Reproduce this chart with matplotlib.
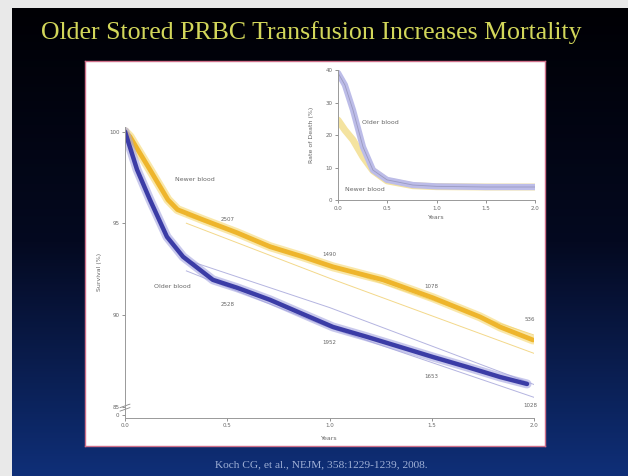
import matplotlib
matplotlib.use('Agg')
import matplotlib.pyplot as plt
import numpy as np
from matplotlib.colors import LinearSegmentedColormap
from matplotlib.patches import Rectangle

# Kaplan-Meier survival (%)
years_new = [0, 0.024, 0.06, 0.122, 0.21, 0.257, 0.381, 0.548, 0.709, 0.870,
             1.017, 1.262, 1.506, 1.736, 1.834, 1.995]
surv_new = [100, 99.73, 99.06, 97.92, 96.28, 95.74, 95.19, 94.48, 93.72, 93.17,
            92.62, 91.91, 90.93, 89.89, 89.34, 88.63]
years_old = [0, 0.059, 0.122, 0.205, 0.284, 0.430, 0.548, 0.709, 0.856, 1.017,
             1.183, 1.345, 1.506, 1.672, 1.834, 1.966]
surv_old = [100, 97.92, 96.28, 94.26, 93.17, 91.91, 91.48, 90.82, 90.11, 89.34,
            88.80, 88.25, 87.70, 87.16, 86.61, 86.23]

# thin model-based lines (upper / lower limits)
fit_years = [0.3, 1.0, 2.0]
fit_new_hi = [95.4, 92.7, 88.9]
fit_new_lo = [95.0, 92.0, 87.9]
fit_old_hi = [93.0, 90.4, 86.2]
fit_old_lo = [92.4, 89.3, 85.5]

# numbers at risk printed on the curves
risk_years = [0.5, 1.0, 1.5, 1.98]
risk_new = ['2507', '1490', '1078', '536']
risk_new_y = [95.19, 93.28, 91.53, 89.73]
risk_old = ['2528', '1952', '1653', '1028']
risk_old_y = [90.55, 88.47, 86.61, 85.08]

# hazard inset: rate of death (%)
haz_years = [0, 0.07, 0.152, 0.254, 0.355, 0.497, 0.761, 1.0, 1.5, 2.0]
haz_old = [39.1, 35.4, 27.7, 16.3, 9.2, 6.2, 4.6, 4.2, 4.0, 4.0]
haz_new = [24.6, 21.5, 18.5, 13.2, 9.0, 5.9, 4.4, 4.1, 4.0, 4.0]

x_ticks = [0.0, 0.5, 1.0, 1.5, 2.0]
x_labels = ['0.0', '0.5', '1.0', '1.5', '2.0']
y_ticks = [84.55, 85, 90, 95, 100]
y_labels = ['0', '85', '90', '95', '100']
inset_yticks = [0, 10, 20, 30, 40]

fig = plt.figure(figsize=(6.28, 4.76), dpi=100)

# slide background
bg = fig.add_axes([12 / 628, 0, 1 - 12 / 628, 1 - 8 / 476])
cmap = LinearSegmentedColormap.from_list('slide', ['#000004', '#040920', '#0f2f78'])
bg.imshow(np.linspace(0, 1, 256).reshape(-1, 1), aspect='auto', cmap=cmap,
          extent=[0, 1, 0, 1], origin='upper')
bg.axis('off')
fig.patches.append(Rectangle((0, 0), 12 / 628, 1, transform=fig.transFigure,
                             facecolor='#e9e9e9', edgecolor='none', zorder=0))
fig.patches.append(Rectangle((0, 1 - 8 / 476), 1, 8 / 476, transform=fig.transFigure,
                             facecolor='#e9e9e9', edgecolor='none', zorder=0))

fig.text(0.496, 1 - 33 / 476, 'Older Stored PRBC Transfusion Increases Mortality',
         ha='center', va='center', color='#d2d65a', fontsize=18.6,
         family='Liberation Serif')
fig.text(0.512, 1 - 465 / 476, 'Koch CG, et al., NEJM, 358:1229-1239, 2008.',
         ha='center', va='center', color='#9fb0d6', fontsize=8.2,
         family='Liberation Serif')

# white chart panel
panel = fig.add_axes([85 / 628, 1 - 446 / 476, 460 / 628, 385 / 476])
panel.set_xticks([])
panel.set_yticks([])
panel.set_facecolor('white')
for s in panel.spines.values():
    s.set_color('#d0708a')
    s.set_linewidth(1.0)

grey = '#666666'

# main survival plot
ax = fig.add_axes([125 / 628, 1 - 417.5 / 476, 409 / 628, 290.5 / 476])
ax.patch.set_alpha(0)
ax.plot(fit_years, fit_new_hi, color='#f3d88a', lw=0.7)
ax.plot(fit_years, fit_new_lo, color='#f3d88a', lw=0.7)
ax.plot(fit_years, fit_old_hi, color='#b4b4e0', lw=0.7)
ax.plot(fit_years, fit_old_lo, color='#b4b4e0', lw=0.7)
ax.plot(years_new, surv_new, color='#f6d870', lw=6.5, alpha=0.6, solid_capstyle='round')
ax.plot(years_new, surv_new, color='#eeb52c', lw=3.4, solid_capstyle='round')
ax.plot(years_old, surv_old, color='#a4a4e0', lw=6.5, alpha=0.6, solid_capstyle='round')
ax.plot(years_old, surv_old, color='#3b3ca6', lw=3.2, solid_capstyle='round')

ax.set_xlim(0, 2.0)
ax.set_ylim(84.4, 100.25)
ax.set_xticks(x_ticks)
ax.set_xticklabels(x_labels)
ax.set_yticks(y_ticks)
ax.set_yticklabels(y_labels)
ax.tick_params(labelsize=4, colors=grey, length=2, width=0.5, pad=2)
for side in ['top', 'right']:
    ax.spines[side].set_visible(False)
for side in ['left', 'bottom']:
    ax.spines[side].set_color('#999999')
    ax.spines[side].set_linewidth(0.7)
ax.set_xlabel('Years', fontsize=4.5, color=grey, labelpad=6)
ax.set_ylabel('Survival (%)', fontsize=4.5, color=grey, labelpad=5)
# axis break marks
for yb in [0.028, 0.040]:
    ax.plot([-0.012, 0.012], [yb - 0.006, yb + 0.006], transform=ax.transAxes,
            color='#888888', lw=0.6, clip_on=False)

ax.text(0.34, 97.4, 'Newer blood', fontsize=4.5, color=grey, ha='center', va='center')
ax.text(0.23, 91.53, 'Older blood', fontsize=4.5, color=grey, ha='center', va='center')
for xr, lab, yr in zip(risk_years, risk_new, risk_new_y):
    ax.text(xr, yr, lab, fontsize=4, color=grey, ha='center', va='center')
for xr, lab, yr in zip(risk_years, risk_old, risk_old_y):
    ax.text(xr, yr, lab, fontsize=4, color=grey, ha='center', va='center')

# inset: hazard of death
ins = fig.add_axes([338 / 628, 1 - 200 / 476, 197 / 628, 130 / 476])
ins.patch.set_alpha(0)
ins.plot(haz_years, haz_new, color='#f4e3a0', lw=5, solid_capstyle='round')
ins.plot(haz_years, haz_old, color='#bcbce8', lw=4.5, solid_capstyle='round')
ins.plot(haz_years, haz_old, color='#9a9ac0', lw=0.6)
ins.set_xlim(0, 2.0)
ins.set_ylim(0, 40)
ins.set_xticks(x_ticks)
ins.set_xticklabels(x_labels)
ins.set_yticks(inset_yticks)
ins.tick_params(labelsize=4, colors=grey, length=2, width=0.5, pad=2)
for side in ['top', 'right']:
    ins.spines[side].set_visible(False)
for side in ['left', 'bottom']:
    ins.spines[side].set_color('#999999')
    ins.spines[side].set_linewidth(0.7)
ins.set_xlabel('Years', fontsize=4.5, color=grey, labelpad=3)
ins.set_ylabel('Rate of Death (%)', fontsize=4.5, color=grey, labelpad=8)
ins.text(0.426, 23.7, 'Older blood', fontsize=4.5, color=grey, ha='center', va='center')
ins.text(0.274, 3.1, 'Newer blood', fontsize=4.5, color=grey, ha='center', va='center')

fig.savefig('out.png', dpi=100)
